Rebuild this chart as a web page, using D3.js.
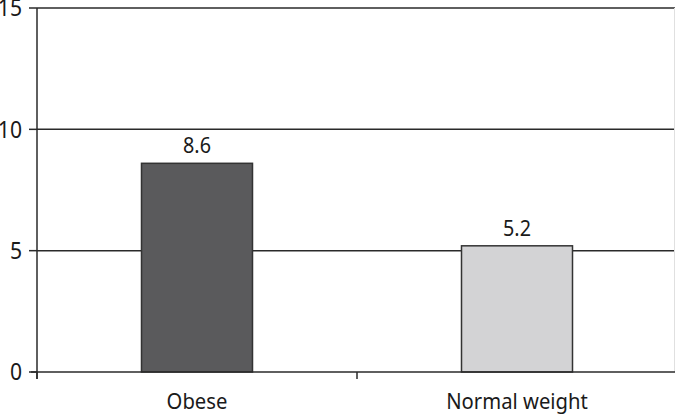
<!DOCTYPE html>
<html><head><meta charset="utf-8">
<script src="https://cdn.jsdelivr.net/npm/d3@7"></script>
<style>body{margin:0;background:#fff}svg{display:block}text{font-family:"Noto Sans",sans-serif;fill:#1a1a1a}</style>
</head><body>
<script>
const categories = ["Obese", "Normal weight"];
const values = [8.6, 5.2];
const yTicks = [0, 5, 10, 15];
const colors = ["#5a5a5c", "#d3d3d5"];

const W = 675, H = 417;
const SX = 0.9;
const svg = d3.select("body").append("svg").attr("width", W).attr("height", H);
const x = d3.scaleBand().domain(categories).range([37, 677]).paddingInner(0).paddingOuter(0);
const y = d3.scaleLinear().domain([0, 15]).range([372, 8]);
const barW = 111;

// gridlines
svg.append("g").selectAll("line").data(yTicks.filter(d => d > 0)).join("line")
  .attr("x1", 37).attr("x2", W).attr("y1", d => y(d)).attr("y2", d => y(d))
  .attr("stroke", "#2a2a2a").attr("stroke-width", 1.5);

// right edge
svg.append("line").attr("x1", 674.5).attr("x2", 674.5).attr("y1", y(15)).attr("y2", y(0))
  .attr("stroke", "#e0e0e0").attr("stroke-width", 1);

// bars
svg.append("g").selectAll("rect").data(values).join("rect")
  .attr("x", (d, i) => x(categories[i]) + x.bandwidth() / 2 - barW / 2)
  .attr("width", barW)
  .attr("y", d => y(d)).attr("height", d => y(0) - y(d))
  .attr("fill", (d, i) => colors[i]).attr("stroke", "#333").attr("stroke-width", 1.5);

// value labels
svg.append("g").selectAll("text").data(values).join("text")
  .attr("transform", (d, i) => `translate(${x(categories[i]) + x.bandwidth() / 2},${y(d) - 10}) scale(${SX},1)`)
  .attr("text-anchor", "middle").attr("font-size", 22)
  .text(d => d.toFixed(1));

// x axis
svg.append("line").attr("x1", 31).attr("x2", W).attr("y1", y(0)).attr("y2", y(0))
  .attr("stroke", "#2a2a2a").attr("stroke-width", 1.5);
const xTickPos = [37, 357, 677];
svg.append("g").selectAll("line").data(xTickPos).join("line")
  .attr("x1", d => d).attr("x2", d => d).attr("y1", y(0)).attr("y2", y(0) + 7)
  .attr("stroke", "#2a2a2a").attr("stroke-width", 1.5);
svg.append("g").selectAll("text").data(categories).join("text")
  .attr("transform", d => `translate(${x(d) + x.bandwidth() / 2},409) scale(${SX},1)`)
  .attr("text-anchor", "middle").attr("font-size", 22.5)
  .text(d => d);

// y axis
svg.append("line").attr("x1", 37).attr("x2", 37).attr("y1", y(15)).attr("y2", y(0) + 7)
  .attr("stroke", "#2a2a2a").attr("stroke-width", 1.5);
svg.append("g").selectAll("line").data(yTicks).join("line")
  .attr("x1", 29).attr("x2", 37).attr("y1", d => y(d)).attr("y2", d => y(d))
  .attr("stroke", "#2a2a2a").attr("stroke-width", 1.5);
svg.append("g").selectAll("text").data(yTicks).join("text")
  .attr("transform", d => `translate(22,${y(d)}) scale(${SX},1)`)
  .attr("dy", "0.36em")
  .attr("text-anchor", "end").attr("font-size", 23.5)
  .text(d => d);
</script>
</body></html>
